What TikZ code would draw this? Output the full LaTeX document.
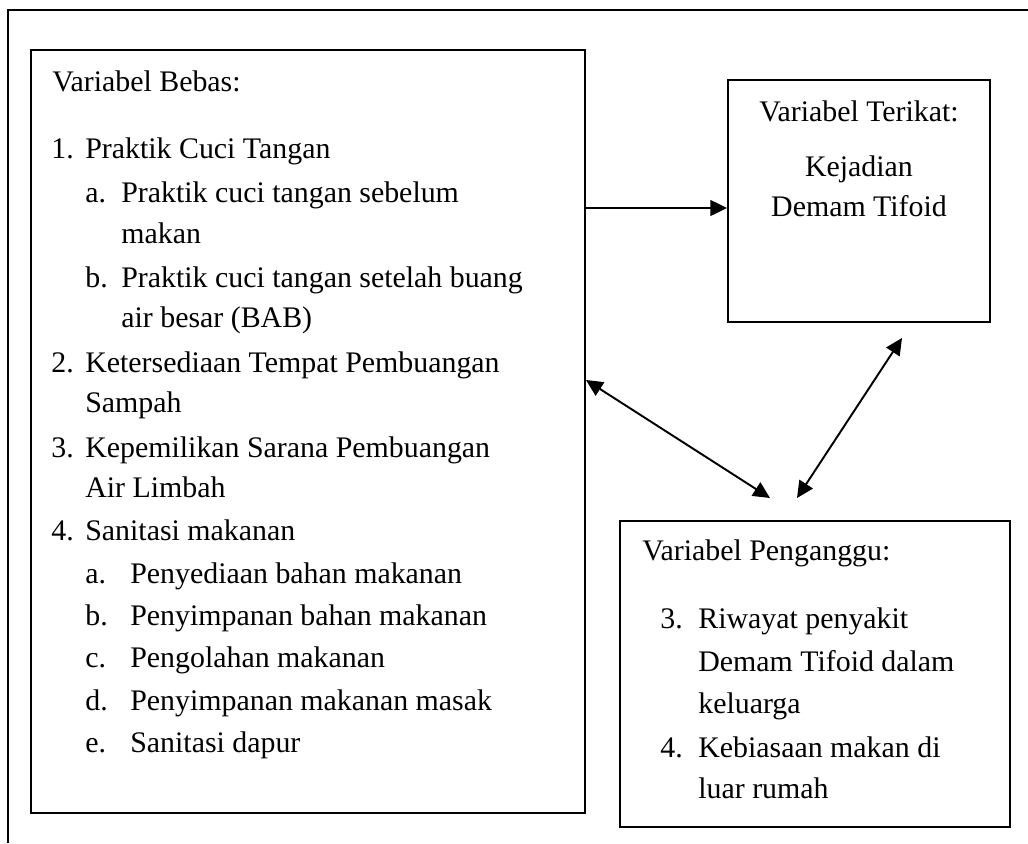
\documentclass[tikz,border=0pt]{standalone}
\usepackage{fontspec}
\setmainfont{Liberation Serif}
\usetikzlibrary{fit, arrows.meta}

\begin{document}
\begin{tikzpicture}[x=0.02cm, y=-0.02cm,
	box/.style={draw=black, line width=1.1pt, inner sep=0pt},
	txt/.style={anchor=base west, inner sep=0pt, font=\fontsize{17}{20}\selectfont},
	ctxt/.style={anchor=base, inner sep=0pt, font=\fontsize{17}{20}\selectfont},
	arr/.style={line width=1.1pt, -{Triangle[length=9.5pt,width=9pt]}},
	darr/.style={line width=1.1pt, {Triangle[length=9.5pt,width=9pt]}-{Triangle[length=9.5pt,width=9pt]}}]
	\useasboundingbox (0,0) rectangle (1028,843);
	% outer frame (only top and left side show)
	\draw[line width=1.1pt] (8,843) -- (8,10) -- (1028,10);
	
	% boxes
	\node[box, fit={(31,50) (585,813)}] (bebas) {};
	\node[box, fit={(728,80) (990,322)}] (terikat) {};
	\node[box, fit={(620,521) (1010,827)}] (pengganggu) {};
	
	% variabel bebas
	\node[txt] (vb) at (52,91) {Variabel Bebas:};
	\node[txt] (n1) at (51,158) {1.};
	\node[txt] (t1) at (85,158) {Praktik Cuci Tangan};
	\node[txt] (n1a) at (85,202) {a.};
	\node[txt] (t1a) at (121,202) {Praktik cuci tangan sebelum};
	\node[txt] (t1a2) at (121,243) {makan};
	\node[txt] (n1b) at (85,287) {b.};
	\node[txt] (t1b) at (121,287) {Praktik cuci tangan setelah buang};
	\node[txt] (t1b2) at (121,327) {air besar (BAB)};
	\node[txt] (n2) at (51,372) {2.};
	\node[txt] (t2) at (85,372) {Ketersediaan Tempat Pembuangan};
	\node[txt] (t2b) at (85,412) {Sampah};
	\node[txt] (n3) at (51,457) {3.};
	\node[txt] (t3) at (85,457) {Kepemilikan Sarana Pembuangan};
	\node[txt] (t3b) at (85,497) {Air Limbah};
	\node[txt] (n4) at (51,540) {4.};
	\node[txt] (t4) at (85,540) {Sanitasi makanan};
	\node[txt] (n4a) at (85,583) {a.};
	\node[txt] (t4a) at (130,583) {Penyediaan bahan makanan};
	\node[txt] (n4b) at (85,625) {b.};
	\node[txt] (t4b) at (130,625) {Penyimpanan bahan makanan};
	\node[txt] (n4c) at (85,667) {c.};
	\node[txt] (t4c) at (130,667) {Pengolahan makanan};
	\node[txt] (n4d) at (85,710) {d.};
	\node[txt] (t4d) at (130,710) {Penyimpanan makanan masak};
	\node[txt] (n4e) at (85,752) {e.};
	\node[txt] (t4e) at (130,752) {Sanitasi dapur};
	
	% variabel terikat
	\node[ctxt] (vt) at (859,121) {Variabel Terikat:};
	\node[ctxt] (kej) at (859,176) {Kejadian};
	\node[ctxt] (dem) at (859,216) {Demam Tifoid};
	
	% variabel pengganggu
	\node[txt] (vp) at (642,560) {Variabel Penganggu:};
	\node[txt] (p3) at (660,628) {3.};
	\node[txt] (tp3) at (698,628) {Riwayat penyakit};
	\node[txt] (tp3b) at (698,671) {Demam Tifoid dalam};
	\node[txt] (tp3c) at (698,713) {keluarga};
	\node[txt] (p4) at (660,757) {4.};
	\node[txt] (tp4) at (698,757) {Kebiasaan makan di};
	\node[txt] (tp4b) at (698,798) {luar rumah};
	
	% arrows
	\coordinate (h) at (0,208);
	\coordinate (q) at (0,380);
	\coordinate (p1) at (770,498);
	\coordinate (p2) at (797,498);
	\coordinate (t2) at (902,338);
	\draw[arr] (bebas.east |- h) -- (terikat.west |- h);
	\draw[darr] (bebas.east |- q) -- (p1);
	\draw[darr] (t2) -- (p2);
\end{tikzpicture}
\end{document}
